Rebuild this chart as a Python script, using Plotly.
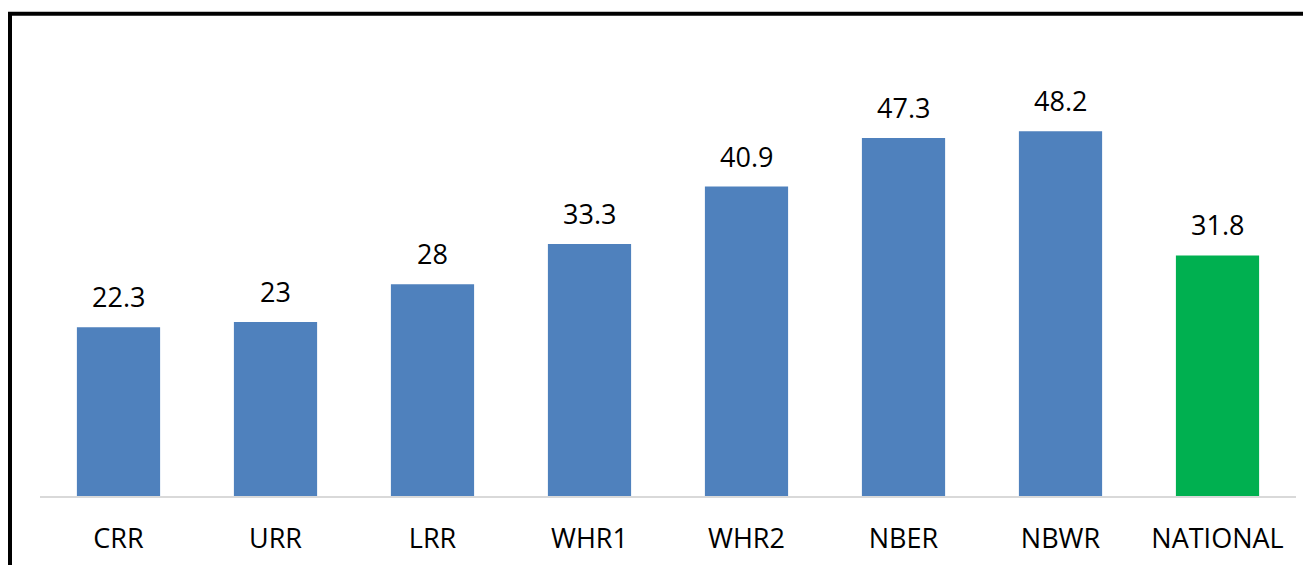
import plotly.graph_objects as go

categories = ["CRR", "URR", "LRR", "WHR1", "WHR2", "NBER", "NBWR", "NATIONAL"]
values = [22.3, 23, 28, 33.3, 40.9, 47.3, 48.2, 31.8]
labels = ["22.3", "23", "28", "33.3", "40.9", "47.3", "48.2", "31.8"]
bar_colors = ["#4F81BD"] * 7 + ["#00B050"]

FONT = "'Open Sans', 'Liberation Sans', sans-serif"

fig = go.Figure(go.Bar(x=categories, y=values, marker=dict(color=bar_colors, line=dict(width=0)),
                       hoverinfo="skip"))

for c, v, t in zip(categories, values, labels):
    fig.add_annotation(x=c, y=v, text=t, showarrow=False, yanchor="bottom", yshift=10,
                       font=dict(family=FONT, size=27, color="#000000"))

# page has an 8px body margin, so figure coords = page coords - 8
W, H = 1303, 557
L, R, T, B = 32, 15, 34, 69
pw, ph = W - L - R, H - T - B

def px_x(p):
    return (p - L) / pw

def px_y(p):
    return (H - B - p) / ph

# outer frame (left and top visible)
fig.add_shape(type="line", xref="paper", yref="paper", x0=px_x(1.5), x1=px_x(1.5),
              y0=px_y(5.8), y1=px_y(570), line=dict(color="#000000", width=5))
fig.add_shape(type="line", xref="paper", yref="paper", x0=px_x(-1), x1=px_x(1320),
              y0=px_y(5.8), y1=px_y(5.8), line=dict(color="#000000", width=4))

fig.update_layout(
    width=W, height=H,
    margin=dict(l=L, r=R, t=T, b=B, pad=0),
    paper_bgcolor="#FFFFFF", plot_bgcolor="#FFFFFF",
    bargap=0.47, showlegend=False,
    font=dict(family=FONT, size=27, color="#000000"),
    xaxis=dict(showline=True, linecolor="#D9D9D9", linewidth=2, showgrid=False, zeroline=False,
               ticks="outside", ticklen=18, tickcolor="rgba(0,0,0,0)", automargin=False,
               tickfont=dict(family=FONT, size=27, color="#000000")),
    yaxis=dict(range=[0, 60], visible=False, showgrid=False, zeroline=False, automargin=False),
)

fig.write_html("out.html")
